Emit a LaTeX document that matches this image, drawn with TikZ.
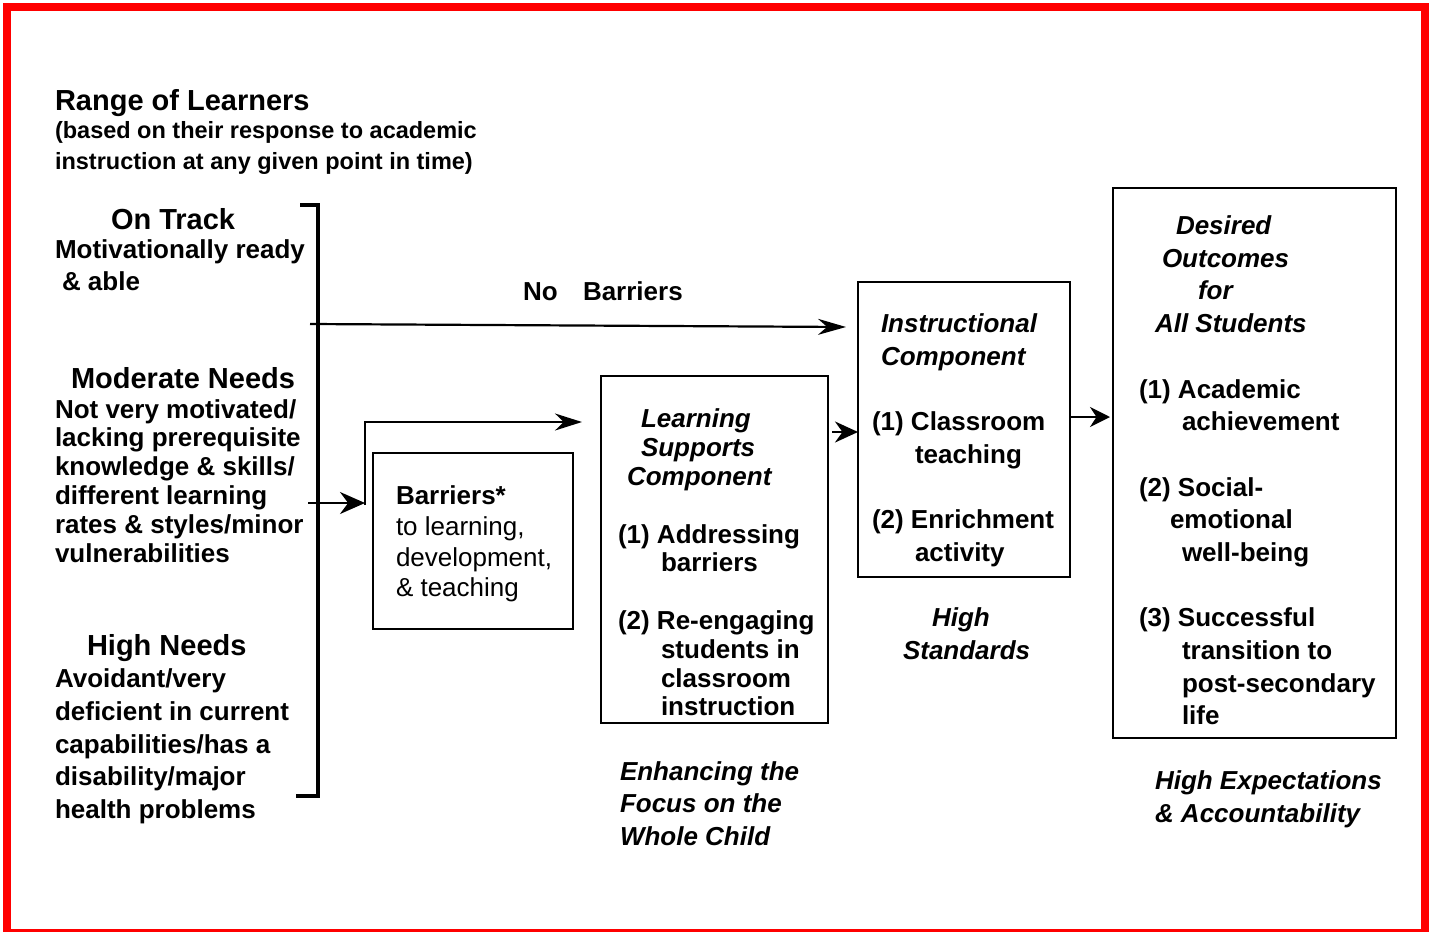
\documentclass[tikz,border=0pt]{standalone}
\usepackage{fontspec}
\setmainfont{Liberation Sans}
\usetikzlibrary{arrows.meta,calc}
\newcommand\fBig{\fontsize{29}{32}\selectfont\bfseries}
\newcommand\fMid{\fontsize{23.5}{28}\selectfont\bfseries}
\newcommand\fNorm{\fontsize{26}{30}\selectfont\bfseries}
\newcommand\fIt{\fontsize{26}{30}\selectfont\bfseries\itshape}
\newcommand\fReg{\fontsize{26}{30}\selectfont\mdseries}
\newcounter{tln}
\newcommand\tl[3]{\stepcounter{tln}\node[txt] (tl\arabic{tln}) at (#1,#2) {#3};}
\begin{document}
\begin{tikzpicture}[x=1pt,y=-1pt,
  txt/.style={anchor=base west,inner sep=0pt,outer sep=0pt},
  boxnode/.style={draw=black,line width=2pt,inner sep=0pt,outer sep=0pt},
  bracketline/.style={draw=black,line width=4pt},
  arrline/.style={draw=black,line width=2.2pt},
  headA/.style={-{Stealth[length=28pt,width=16pt]}},
  headB/.style={-{Stealth[length=25pt,width=22pt]}},
  headC/.style={-{Stealth[length=27pt,width=17pt]}},
  headD/.style={-{Stealth[length=23pt,width=21pt]}},
  headE/.style={-{Stealth[length=20pt,width=20pt]}}]
\useasboundingbox (0,0) rectangle (1436,932);
\fill[white] (0,0) rectangle (1436,932);
\draw[red,line width=8pt] (7,7) rectangle (1424.5,933);

% boxes
\node[boxnode,minimum width=200pt,minimum height=176pt] (barriers) at (473,541) {};
\node[boxnode,minimum width=227pt,minimum height=347pt] (ls) at (714.5,549.5) {};
\node[boxnode,minimum width=212pt,minimum height=295pt] (instr) at (964,429.5) {};
\node[boxnode,minimum width=283pt,minimum height=550pt] (desired) at (1254.5,463) {};

% bracket
\coordinate (brTT) at (300,205);
\coordinate (brT) at (318,205);
\coordinate (brB) at (318,796);
\coordinate (brBT) at (296,796);
\draw[bracketline] (brTT) -- (brT) -- (brB) -- (brBT);

% arrows
\coordinate (nbS) at (310,324);
\coordinate (nbE) at (846,327);
\draw[arrline,headA] (nbS) -- (nbE);

\coordinate (modS) at (308,503);
\coordinate (split) at (365,503);
\coordinate (splitBot) at (365,505);
\coordinate (splitTop) at (365,422);
\coordinate (lsIn) at (582,422);
\draw[arrline,headB] (modS) -- (split);
\draw[arrline,headC] (splitBot) -- (splitTop) -- (lsIn);

\coordinate (lsOut) at (832,432);
\coordinate (instrIn) at (858,432);
\draw[arrline,headD] (lsOut) -- (instrIn);
\coordinate (instrOut) at (1070,417);
\coordinate (desIn) at (1110,417);
\draw[arrline,headE] (instrOut) -- (desIn);

% left column
\tl{55}{110}{\fBig Range of Learners}
\tl{55}{138}{\fMid (based on their response to academic}
\tl{55}{169}{\fMid instruction at any given point in time)}
\tl{111}{229}{\fBig On Track}
\tl{55}{258}{\fNorm Motivationally ready}
\tl{62}{290}{\fNorm \& able}
\tl{71}{388}{\fBig Moderate Needs}
\tl{55}{418}{\fNorm Not very motivated/}
\tl{55}{446}{\fNorm lacking prerequisite}
\tl{55}{475}{\fNorm knowledge \& skills/}
\tl{55}{504}{\fNorm different learning}
\tl{55}{533}{\fNorm rates \& styles/minor}
\tl{55}{562}{\fNorm vulnerabilities}
\tl{87}{655}{\fBig High Needs}
\tl{55}{687}{\fNorm Avoidant/very}
\tl{55}{720}{\fNorm deficient in current}
\tl{55}{753}{\fNorm capabilities/has a}
\tl{55}{785}{\fNorm disability/major}
\tl{55}{818}{\fNorm health problems}

% no barriers
\tl{523}{300}{\fNorm No}
\tl{583}{300}{\fNorm Barriers}

% barriers box
\tl{396}{504}{\fNorm Barriers*}
\tl{396}{535}{\fReg to learning,}
\tl{396}{566}{\fReg development,}
\tl{396}{596}{\fReg \& teaching}

% learning supports
\tl{641}{427}{\fIt Learning}
\tl{641}{456}{\fIt Supports}
\tl{627}{485}{\fIt Component}
\tl{618}{543}{\fNorm (1) Addressing}
\tl{661}{571}{\fNorm barriers}
\tl{618}{629}{\fNorm (2) Re-engaging}
\tl{661}{658}{\fNorm students in}
\tl{661}{687}{\fNorm classroom}
\tl{661}{715}{\fNorm instruction}
\tl{620}{780}{\fIt Enhancing the}
\tl{620}{812}{\fIt Focus on the}
\tl{620}{845}{\fIt Whole Child}

% instructional
\tl{881}{332}{\fIt Instructional}
\tl{881}{365}{\fIt Component}
\tl{872}{430}{\fNorm (1) Classroom}
\tl{915}{463}{\fNorm teaching}
\tl{872}{528}{\fNorm (2) Enrichment}
\tl{915}{561}{\fNorm activity}
\tl{932}{626}{\fIt High}
\tl{903}{659}{\fIt Standards}

% desired outcomes
\tl{1176}{234}{\fIt Desired}
\tl{1162}{267}{\fIt Outcomes}
\tl{1198}{299}{\fIt for}
\tl{1155}{332}{\fIt All Students}
\tl{1139}{398}{\fNorm (1) Academic}
\tl{1182}{430}{\fNorm achievement}
\tl{1139}{496}{\fNorm (2) Social-}
\tl{1170}{528}{\fNorm emotional}
\tl{1182}{561}{\fNorm well-being}
\tl{1139}{626}{\fNorm (3) Successful}
\tl{1182}{659}{\fNorm transition to}
\tl{1182}{692}{\fNorm post-secondary}
\tl{1182}{724}{\fNorm life}
\tl{1155}{789}{\fIt High Expectations}
\tl{1155}{822}{\fIt \& Accountability}
\end{tikzpicture}
\end{document}
